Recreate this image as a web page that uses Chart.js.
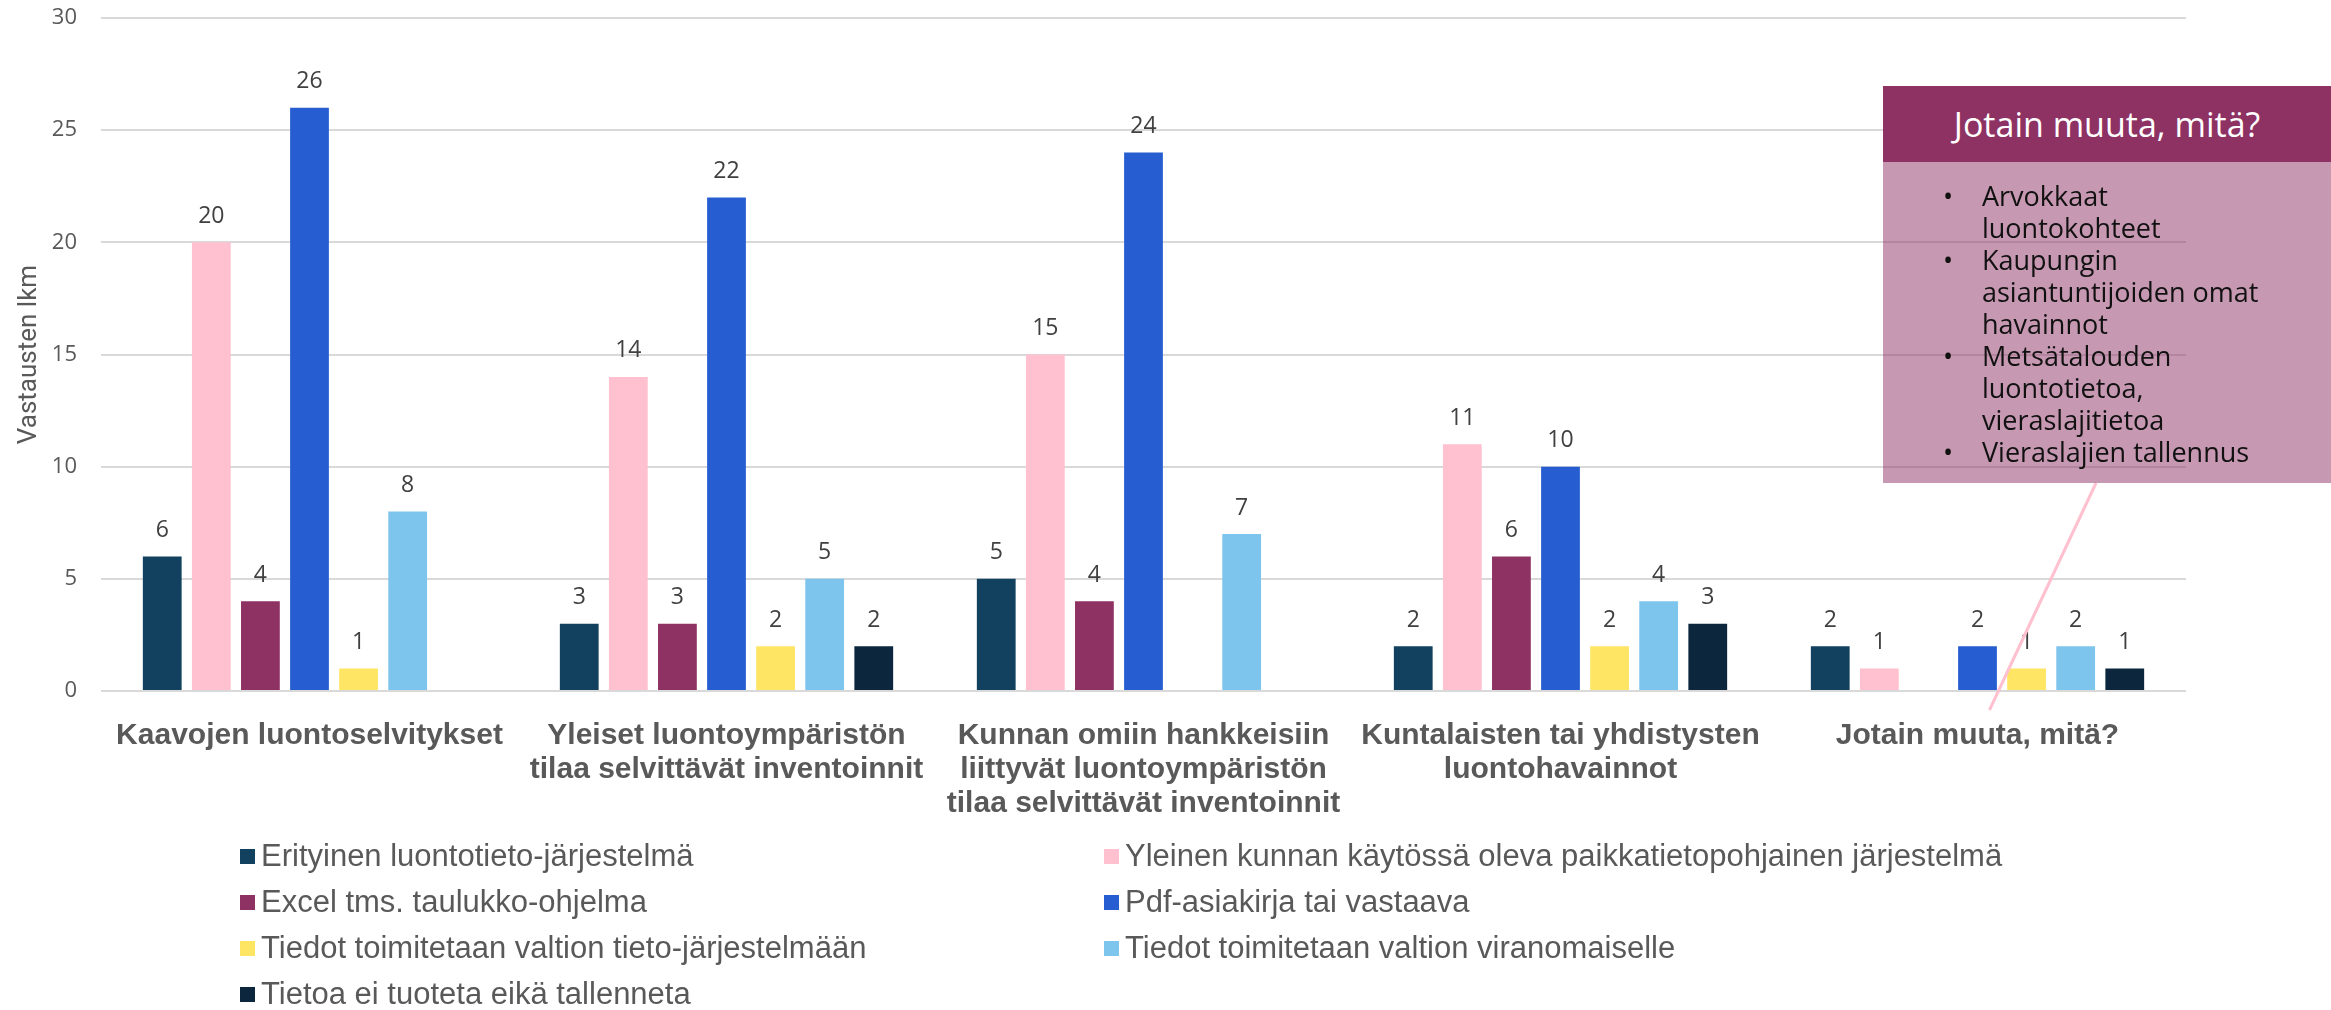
<!DOCTYPE html>
<html lang="fi">
<head>
  <meta charset="UTF-8" />
  <title>Luontotiedon tallennus</title>
  <script src="https://cdn.jsdelivr.net/npm/chart.js@4.4.1/dist/chart.umd.min.js"></script>
  <style>
    * { margin: 0; padding: 0; box-sizing: border-box; }
    body {
      width: 2331px;
      height: 1010px;
      background: #ffffff;
      position: relative;
      overflow: hidden;
      font-family: 'Liberation Sans', Arial, sans-serif;
    }
    #chart { position: absolute; left: 0; top: 0; }
    /* legend, two columns */
    #legend {
      position: absolute;
      left: 240px;
      top: 838px;
      display: grid;
      grid-template-columns: 864px auto;
      grid-auto-rows: 46px;
      color: #595959;
      font-size: 31px;
    }
    .item { display: flex; align-items: center; height: 36px; }
    .box { width: 15px; height: 15px; margin-right: 6px; }
    /* callout */
    #callout {
      position: absolute;
      left: 1883px;
      top: 86px;
      width: 448px;
    }
    #callout .head {
      height: 76px;
      background: #8e3163;
      color: #ffffff;
      font-family: 'Open Sans', sans-serif;
      font-size: 34px;
      display: flex;
      align-items: center;
      justify-content: center;
    }
    #callout .body {
      height: 321px;
      background: rgba(142, 49, 99, 0.5);
      color: #111111;
      font-family: 'Open Sans', sans-serif;
      font-size: 27px;
      line-height: 32px;
      padding-top: 18px;
    }
    #callout li {
      list-style: none;
      position: relative;
      padding-left: 99px;
      padding-right: 40px;
    }
    #callout li::before {
      content: '•';
      position: absolute;
      left: 60px;
    }
  </style>
</head>
<body>
  <canvas id="chart" width="2331" height="1010"></canvas>
  <div id="legend"></div>
  <div id="callout">
    <div class="head">Jotain muuta, mitä?</div>
    <div class="body"><ul id="notes"></ul></div>
  </div>

  <script>
    // Kategoriat (x-akseli)
    const categories = [
      'Kaavojen luontoselvitykset',
      ['Yleiset luontoympäristön', 'tilaa selvittävät inventoinnit'],
      ['Kunnan omiin hankkeisiin', 'liittyvät luontoympäristön', 'tilaa selvittävät inventoinnit'],
      ['Kuntalaisten tai yhdistysten', 'luontohavainnot'],
      'Jotain muuta, mitä?'
    ];

    const seriesNames = [
      'Erityinen luontotieto-järjestelmä',
      'Yleinen kunnan käytössä oleva paikkatietopohjainen järjestelmä',
      'Excel tms. taulukko-ohjelma',
      'Pdf-asiakirja tai vastaava',
      'Tiedot toimitetaan valtion tieto-järjestelmään',
      'Tiedot toimitetaan valtion viranomaiselle',
      'Tietoa ei tuoteta eikä tallenneta'
    ];
    const seriesColors = ['#12405f', '#ffc0cf', '#8e3163', '#265ed1', '#ffe564', '#7ec5ee', '#0b263d'];

    // vastausten lkm per sarja
    const erityinen   = [6, 3, 5, 2, 2];
    const yleinen     = [20, 14, 15, 11, 1];
    const excel       = [4, 3, 4, 6, 0];
    const pdf         = [26, 22, 24, 10, 2];
    const valtionJarj = [1, 2, 0, 2, 1];
    const viranomainen = [8, 5, 7, 4, 2];
    const eiTuoteta   = [0, 2, 0, 3, 1];
    const seriesValues = [erityinen, yleinen, excel, pdf, valtionJarj, viranomainen, eiTuoteta];

    const yTicks = { min: 0, max: 30, step: 5 };

    const calloutNotes = [
      'Arvokkaat luontokohteet',
      'Kaupungin asiantuntijoiden omat havainnot',
      'Metsätalouden luontotietoa, vieraslajitietoa',
      'Vieraslajien tallennus'
    ];

    // value labels on top of bars (zeros left out)
    const valueLabels = {
      id: 'valueLabels',
      afterDatasetsDraw(chart) {
        const ctx = chart.ctx;
        ctx.save();
        ctx.font = '23px "Open Sans", sans-serif';
        ctx.fillStyle = '#404040';
        ctx.textAlign = 'center';
        ctx.textBaseline = 'middle';
        chart.data.datasets.forEach((ds, i) => {
          chart.getDatasetMeta(i).data.forEach((bar, j) => {
            if (!ds.data[j]) return;
            ctx.fillText(ds.data[j], bar.x, bar.y - 26);
          });
        });
        ctx.restore();
      }
    };

    // pink leader line from the callout to the last group
    const leaderLine = {
      id: 'leaderLine',
      afterDraw(chart) {
        const ctx = chart.ctx;
        const x = chart.scales.x.getPixelForValue(4);
        ctx.save();
        ctx.strokeStyle = '#ffc0cf';
        ctx.lineWidth = 3;
        ctx.beginPath();
        ctx.moveTo(2096, 483);
        ctx.lineTo(x + 12, 710);
        ctx.stroke();
        ctx.restore();
      }
    };

    const chart = new Chart(document.getElementById('chart'), {
      type: 'bar',
      data: {
        labels: categories,
        datasets: seriesNames.map((name, i) => ({
          label: name,
          data: seriesValues[i],
          backgroundColor: seriesColors[i],
          categoryPercentage: 0.824,
          barPercentage: 0.79
        }))
      },
      options: {
        responsive: false,
        animation: false,
        layout: { padding: { top: 18, right: 145, bottom: 189, left: 0 } },
        plugins: {
          legend: { display: false },
          tooltip: { enabled: false }
        },
        scales: {
          x: {
            grid: { display: false },
            border: { display: false },
            afterFit(scale) { scale.height = 130; },
            ticks: {
              padding: 20,
              maxRotation: 0,
              autoSkip: false,
              color: '#595959',
              font: { family: "'Liberation Sans', Arial, sans-serif", size: 30, weight: 'bold', lineHeight: 1.13 }
            }
          },
          y: {
            min: yTicks.min,
            max: yTicks.max,
            afterFit(scale) { scale.width = 101; },
            border: { display: false },
            // invisible tick marks keep the labels away from the plot
            grid: { color: '#d9d9d9', lineWidth: 2, drawTicks: true, tickLength: 24, tickColor: 'rgba(0,0,0,0)' },
            ticks: {
              stepSize: yTicks.step,
              padding: 0,
              color: '#595959',
              font: { family: "'Open Sans', sans-serif", size: 22 }
            },
            title: {
              display: true,
              text: 'Vastausten lkm',
              color: '#595959',
              padding: { top: 14, bottom: 4 },
              font: { family: 'Roboto, sans-serif', size: 26 }
            }
          }
        }
      },
      plugins: [valueLabels, leaderLine]
    });

    // HTML legend from the datasets
    const legend = document.getElementById('legend');
    chart.data.datasets.forEach(ds => {
      const item = document.createElement('div');
      item.className = 'item';
      item.innerHTML = '<span class="box" style="background:' + ds.backgroundColor + '"></span>' + ds.label;
      legend.appendChild(item);
    });

    const notes = document.getElementById('notes');
    calloutNotes.forEach(t => {
      const li = document.createElement('li');
      li.textContent = t;
      notes.appendChild(li);
    });
  </script>
</body>
</html>
